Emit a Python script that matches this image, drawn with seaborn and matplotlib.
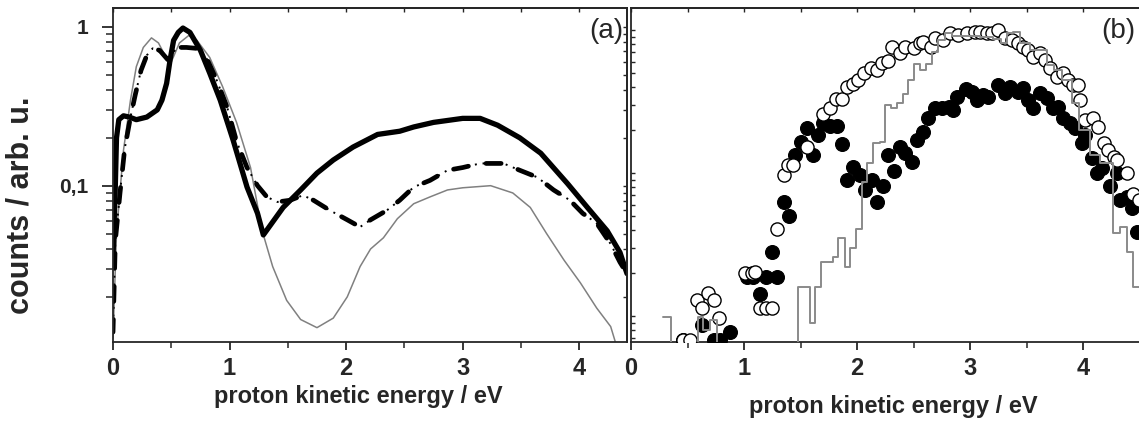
import matplotlib
matplotlib.use("Agg")
import matplotlib.pyplot as plt
import seaborn as sns
from matplotlib.ticker import MultipleLocator, LogLocator, FixedLocator, FuncFormatter, NullFormatter

# panel (a): three spectra
x_solid = [0.0, 0.02, 0.03, 0.05, 0.09, 0.14, 0.20, 0.29, 0.38, 0.42, 0.46, 0.49, 0.52, 0.56, 0.60, 0.66,
           0.75, 0.83, 0.92, 1.03, 1.15, 1.24, 1.29, 1.46, 1.61, 1.75, 1.89, 2.06, 2.27, 2.46, 2.58, 2.75,
           3.0, 3.15, 3.30, 3.49, 3.67, 3.90, 4.07, 4.24, 4.35, 4.41]
y_solid = [0.035, 0.10, 0.20, 0.26, 0.275, 0.27, 0.26, 0.27, 0.30, 0.345, 0.44, 0.62, 0.82, 0.92, 0.98, 0.92,
           0.71, 0.51, 0.345, 0.194, 0.098, 0.067, 0.049, 0.073, 0.094, 0.12, 0.145, 0.175, 0.21, 0.22, 0.234, 0.25,
           0.265, 0.265, 0.24, 0.20, 0.16, 0.103, 0.073, 0.052, 0.038, 0.028]

x_dash = [0.0, 0.02, 0.06, 0.10, 0.15, 0.19, 0.24, 0.29, 0.34, 0.40, 0.47, 0.55, 0.63, 0.72, 0.81, 0.89,
          0.98, 1.06, 1.15, 1.24, 1.32, 1.41, 1.52, 1.63, 1.72, 1.86, 2.01, 2.12, 2.21, 2.35, 2.46, 2.58,
          2.72, 2.87, 3.0, 3.15, 3.35, 3.49, 3.64, 3.78, 3.92, 4.03, 4.15, 4.27, 4.35, 4.41]
y_dash = [0.012, 0.045, 0.09, 0.17, 0.27, 0.37, 0.53, 0.66, 0.73, 0.71, 0.62, 0.74, 0.74, 0.73, 0.62, 0.46,
          0.31, 0.19, 0.13, 0.10, 0.085, 0.079, 0.081, 0.087, 0.081, 0.070, 0.061, 0.055, 0.061, 0.070, 0.081, 0.098,
          0.108, 0.125, 0.13, 0.138, 0.138, 0.125, 0.113, 0.094, 0.081, 0.067, 0.058, 0.043, 0.033, 0.028]

x_gray = [0.0, 0.03, 0.09, 0.15, 0.20, 0.26, 0.33, 0.39, 0.46, 0.50, 0.57, 0.65, 0.72, 0.83, 0.94, 1.06,
          1.18, 1.28, 1.37, 1.49, 1.61, 1.75, 1.89, 2.01, 2.12, 2.21, 2.32, 2.44, 2.58, 2.72, 2.87, 3.0,
          3.24, 3.43, 3.58, 3.72, 3.87, 4.01, 4.15, 4.27, 4.31]
y_gray = [0.011, 0.05, 0.167, 0.345, 0.56, 0.74, 0.85, 0.79, 0.63, 0.60, 0.79, 0.88, 0.82, 0.64, 0.42, 0.25,
          0.13, 0.052, 0.031, 0.019, 0.0144, 0.0128, 0.0147, 0.020, 0.031, 0.040, 0.047, 0.062, 0.077, 0.085, 0.094, 0.097,
          0.10, 0.090, 0.073, 0.05, 0.034, 0.0245, 0.017, 0.013, 0.0104]

# panel (b): open circles, filled circles, gray histogram
x_open = [0.46, 0.52, 0.58, 0.63, 0.68, 0.73, 0.78, 1.01, 1.07, 1.10, 1.14, 1.19, 1.25, 1.29, 1.35, 1.39,
          1.43, 1.56, 1.70, 1.76, 1.81, 1.87, 1.91, 1.96, 2.01, 2.06, 2.12, 2.18, 2.22, 2.27, 2.31, 2.38,
          2.42, 2.50, 2.56, 2.58, 2.65, 2.69, 2.76, 2.82, 2.89, 2.97, 3.04, 3.09, 3.15, 3.19, 3.25, 3.31,
          3.37, 3.42, 3.47, 3.51, 3.56, 3.62, 3.66, 3.71, 3.77, 3.82, 3.87, 3.91, 3.95, 3.97, 4.02, 4.09,
          4.13, 4.18, 4.22, 4.27, 4.30, 4.39, 4.44, 4.49]
y_open = [0.0068, 0.0068, 0.0130, 0.0114, 0.0145, 0.0130, 0.0097, 0.0200, 0.0200, 0.0203, 0.0114, 0.0114, 0.0114, 0.041, 0.097, 0.114,
          0.114, 0.152, 0.259, 0.285, 0.329, 0.329, 0.400, 0.419, 0.447, 0.500, 0.542, 0.525, 0.588, 0.607, 0.760, 0.690,
          0.760, 0.748, 0.811, 0.824, 0.760, 0.879, 0.851, 0.953, 0.923, 0.953, 0.968, 0.968, 0.953, 0.953, 1.0, 0.879,
          0.851, 0.811, 0.760, 0.725, 0.647, 0.690, 0.617, 0.542, 0.469, 0.500, 0.447, 0.413, 0.413, 0.324, 0.235, 0.242,
          0.210, 0.162, 0.145, 0.129, 0.123, 0.100, 0.072, 0.065]

x_full = [0.46, 0.63, 0.73, 0.79, 0.88, 1.03, 1.08, 1.14, 1.19, 1.29, 1.25, 1.35, 1.40, 1.45, 1.50, 1.56,
          1.61, 1.65, 1.70, 1.76, 1.82, 1.87, 1.91, 1.96, 2.03, 2.07, 2.13, 2.18, 2.23, 2.27, 2.33, 2.38,
          2.42, 2.49, 2.53, 2.58, 2.63, 2.69, 2.75, 2.81, 2.85, 2.88, 2.96, 3.02, 3.06, 3.11, 3.16, 3.25,
          3.31, 3.35, 3.42, 3.47, 3.51, 3.56, 3.62, 3.68, 3.73, 3.78, 3.82, 3.88, 3.93, 3.99, 4.02, 4.08,
          4.12, 4.17, 4.24, 4.30, 4.33, 4.39, 4.43, 4.48]
y_full = [0.0068, 0.0087, 0.0068, 0.0068, 0.0078, 0.0188, 0.0188, 0.0143, 0.0188, 0.0188, 0.028, 0.063, 0.050, 0.134, 0.165, 0.207,
          0.134, 0.184, 0.224, 0.213, 0.213, 0.159, 0.089, 0.110, 0.097, 0.076, 0.089, 0.063, 0.082, 0.134, 0.103, 0.152,
          0.138, 0.119, 0.170, 0.194, 0.242, 0.285, 0.285, 0.290, 0.276, 0.340, 0.387, 0.368, 0.324, 0.351, 0.340, 0.413,
          0.362, 0.400, 0.368, 0.393, 0.324, 0.285, 0.362, 0.335, 0.285, 0.290, 0.242, 0.224, 0.207, 0.162, 0.184, 0.127,
          0.100, 0.108, 0.082, 0.100, 0.065, 0.068, 0.057, 0.039]

hist_edges = [0.28, 0.35, 0.59, 0.64, 0.70, 0.76, 1.48, 1.58, 1.63, 1.68, 1.79, 1.83, 1.89, 1.94, 1.99, 2.04,
              2.09, 2.14, 2.20, 2.25, 2.30, 2.35, 2.41, 2.45, 2.50, 2.56, 2.61, 2.66, 2.72, 2.78, 2.84, 3.09,
              3.20, 3.27, 3.33, 3.38, 3.44, 3.53, 3.68, 3.74, 3.81, 3.90, 3.96, 4.06, 4.15, 4.26, 4.33, 4.39,
              4.44, 4.50]
hist_vals = [0.0098, 1e-4, 0.0098, 0.0080, 0.0094, 1e-4, 0.016, 0.0089, 0.016, 0.024, 0.026, 0.035, 0.022, 0.030, 0.041, 0.087,
             0.118, 0.162, 0.165, 0.30, 0.285, 0.31, 0.36, 0.45, 0.58, 0.525, 0.58, 0.70, 0.85, 0.95, 0.91, 0.89,
             0.865, 0.81, 0.95, 0.97, 0.82, 0.725, 0.57, 0.525, 0.45, 0.31, 0.20, 0.134, 0.118, 0.038, 0.042, 0.028,
             0.016]

sns.set_style("ticks")
plt.rcParams['font.family'] = ['Liberation Sans', 'DejaVu Sans']
plt.rcParams['font.weight'] = 'bold'
plt.rcParams['axes.linewidth'] = 1.3

W, H = 1139, 421
fig = plt.figure(figsize=(W / 100, H / 100), dpi=100)
ax1 = fig.add_axes([113 / W, 79 / H, 514 / W, 334 / H])
ax2 = fig.add_axes([631 / W, 79 / H, 520 / W, 334 / H])

for ax in (ax1, ax2):
    ax.set_yscale('log')

# (a)
sns.lineplot(x=x_gray, y=y_gray, ax=ax1, color='#808080', lw=1.1, estimator=None, sort=False)
sns.lineplot(x=x_dash, y=y_dash, ax=ax1, color='black', lw=1.4, estimator=None, sort=False,
             linestyle=(0, (1, 3)))
sns.lineplot(x=x_dash, y=y_dash, ax=ax1, color='black', lw=3.4, estimator=None, sort=False,
             linestyle=(0.5, (3.2, 3.8)), solid_capstyle='round', dash_capstyle='round')
sns.lineplot(x=x_solid, y=y_solid, ax=ax1, color='black', lw=3.8, estimator=None, sort=False)
ax1.set_xlim(0, 4.41)
ax1.set_ylim(0.0104, 1.31)

# (b)
sns.scatterplot(x=x_full, y=y_full, ax=ax2, s=100, color='black', edgecolor='black', linewidth=0.8, zorder=3)
sns.scatterplot(x=x_open, y=y_open, ax=ax2, s=90, color='white', edgecolor='black', linewidth=1.0, zorder=4)
sns.lineplot(x=hist_edges, y=hist_vals + [hist_vals[-1]], ax=ax2, color='#8a8a8a', lw=1.4,
             drawstyle='steps-post', estimator=None, sort=False, zorder=5)
ax2.set_xlim(0, 4.6)
ax2.set_ylim(0.0066, 1.43)

for ax in (ax1, ax2):
    ax.xaxis.set_major_locator(MultipleLocator(1))
    ax.xaxis.set_minor_locator(MultipleLocator(0.5))
    ax.yaxis.set_major_locator(FixedLocator([0.001, 0.01, 0.1, 1]))
    ax.yaxis.set_minor_locator(LogLocator(base=10, subs=range(2, 10)))
    ax.yaxis.set_minor_formatter(NullFormatter())
    ax.tick_params(axis='x', which='major', direction='out', length=6, width=1.3, labelsize=17, pad=5)
    ax.tick_params(axis='x', which='minor', direction='out', length=4, width=1.1)
    ax.tick_params(top=False, right=False)
    for s in ax.spines.values():
        s.set_visible(True)
    top = ax.secondary_xaxis('top')
    top.xaxis.set_major_locator(MultipleLocator(1))
    top.xaxis.set_minor_locator(MultipleLocator(0.5))
    top.tick_params(which='both', direction='in', length=3, width=1.0, labelsize=0, labeltop=False)

ax1.yaxis.set_major_formatter(FuncFormatter(lambda v, p: {0.1: '0,1', 1: '1'}.get(round(v, 3), '')))
ax1.tick_params(axis='y', which='major', direction='out', length=8, width=1.3, labelsize=15, pad=10)
ax1.tick_params(axis='y', which='minor', direction='out', length=5, width=1.1)
right = ax1.secondary_yaxis('right', functions=(lambda v: v, lambda v: v))
right.yaxis.set_major_locator(FixedLocator([0.01, 0.1, 1]))
right.yaxis.set_minor_locator(LogLocator(base=10, subs=range(2, 10)))
right.tick_params(which='both', direction='in', length=3, width=1.0, labelright=False)

ax2.tick_params(axis='y', which='both', direction='in', length=3, width=1.0, labelleft=False)

ax1.set_xlabel('proton kinetic energy / eV', fontsize=17, fontweight='bold')
ax1.xaxis.set_label_coords(0.477, -0.13)
ax2.set_xlabel('proton kinetic energy / eV', fontsize=17, fontweight='bold')
ax2.xaxis.set_label_coords(0.504, -0.16)
ax1.set_ylabel('counts / arb. u.', fontsize=22, fontweight='bold')
ax1.yaxis.set_label_coords(-0.15, 0.41)
ax2.set_ylabel('')

ax1.text(0.992, 0.97, '(a)', transform=ax1.transAxes, ha='right', va='top', fontsize=20, fontweight='normal')
ax2.text(0.969, 0.97, '(b)', transform=ax2.transAxes, ha='right', va='top', fontsize=20, fontweight='normal')

fig.savefig('out.png', dpi=100)
